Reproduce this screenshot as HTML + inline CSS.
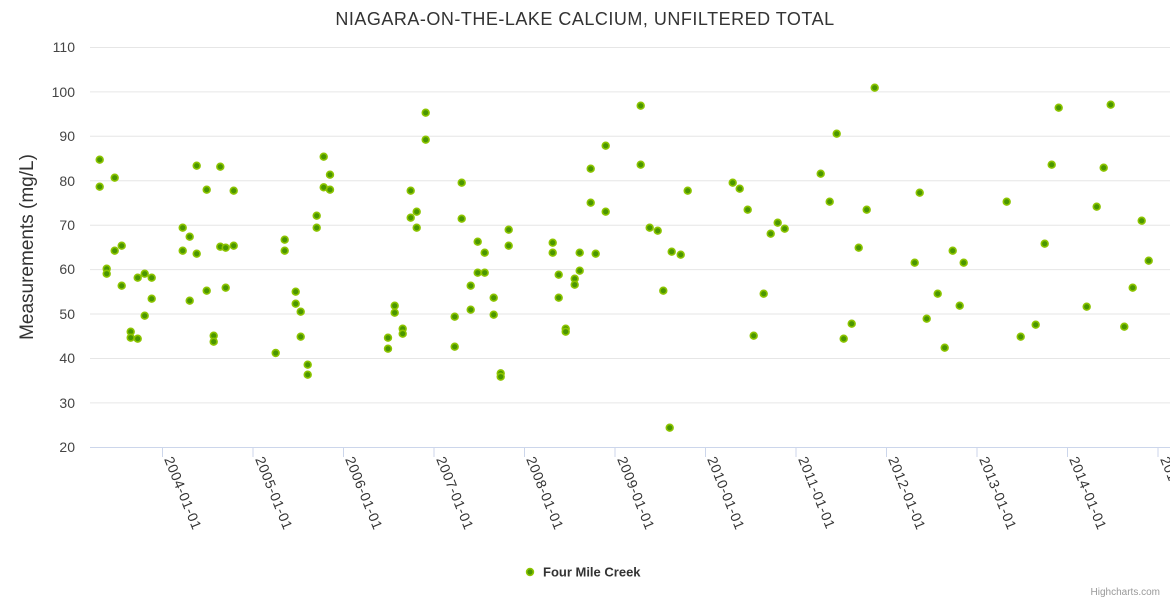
<!DOCTYPE html>
<html><head><meta charset="utf-8"><style>html,body{margin:0;padding:0;background:#fff}svg{display:block}</style></head>
<body>
<svg width="1170" height="600" xmlns="http://www.w3.org/2000/svg" font-family="'Liberation Sans', sans-serif">
<rect width="1170" height="600" fill="#fff"/>
<text x="585" y="25" text-anchor="middle" font-size="18" fill="#333" letter-spacing="0.5">NIAGARA-ON-THE-LAKE CALCIUM, UNFILTERED TOTAL</text>
<g stroke="#e6e6e6" stroke-width="1">
<line x1="90" x2="1170" y1="47.5" y2="47.5"/><line x1="90" x2="1170" y1="91.9" y2="91.9"/><line x1="90" x2="1170" y1="136.3" y2="136.3"/><line x1="90" x2="1170" y1="180.8" y2="180.8"/><line x1="90" x2="1170" y1="225.2" y2="225.2"/><line x1="90" x2="1170" y1="269.6" y2="269.6"/><line x1="90" x2="1170" y1="314" y2="314"/><line x1="90" x2="1170" y1="358.5" y2="358.5"/><line x1="90" x2="1170" y1="402.9" y2="402.9"/>
</g>
<line x1="90" x2="1170" y1="447.5" y2="447.5" stroke="#ccd6eb"/>
<g fill="#444" font-size="14" text-anchor="end">
<text x="75" y="52">110</text><text x="75" y="97">100</text><text x="75" y="141">90</text><text x="75" y="186">80</text><text x="75" y="230">70</text><text x="75" y="274">60</text><text x="75" y="319">50</text><text x="75" y="363">40</text><text x="75" y="408">30</text><text x="75" y="452">20</text>
</g>
<text transform="translate(33,247) rotate(-90)" text-anchor="middle" font-size="19" fill="#333">Measurements (mg/L)</text>
<g stroke="#ccd6eb">
<line x1="162.5" x2="162.5" y1="447" y2="457"/><line x1="253" x2="253" y1="447" y2="457"/><line x1="343.5" x2="343.5" y1="447" y2="457"/><line x1="434" x2="434" y1="447" y2="457"/><line x1="524.5" x2="524.5" y1="447" y2="457"/><line x1="615" x2="615" y1="447" y2="457"/><line x1="705.5" x2="705.5" y1="447" y2="457"/><line x1="796" x2="796" y1="447" y2="457"/><line x1="886.5" x2="886.5" y1="447" y2="457"/><line x1="977" x2="977" y1="447" y2="457"/><line x1="1067.5" x2="1067.5" y1="447" y2="457"/><line x1="1158" x2="1158" y1="447" y2="457"/>
</g>
<g fill="#333" font-size="14" letter-spacing="0.6">
<text transform="translate(164,459) rotate(68)">2004-01-01</text>
<text transform="translate(255,459) rotate(68)">2005-01-01</text>
<text transform="translate(345,459) rotate(68)">2006-01-01</text>
<text transform="translate(436,459) rotate(68)">2007-01-01</text>
<text transform="translate(526,459) rotate(68)">2008-01-01</text>
<text transform="translate(617,459) rotate(68)">2009-01-01</text>
<text transform="translate(707,459) rotate(68)">2010-01-01</text>
<text transform="translate(798,459) rotate(68)">2011-01-01</text>
<text transform="translate(888,459) rotate(68)">2012-01-01</text>
<text transform="translate(979,459) rotate(68)">2013-01-01</text>
<text transform="translate(1069,459) rotate(68)">2014-01-01</text>
<text transform="translate(1160,459) rotate(68)">2015-01-01</text>
</g>
<g fill="#4a9600" stroke="#8cc400" stroke-width="1.6">
<circle cx="99.7" cy="159.7" r="3.4"/><circle cx="99.7" cy="186.7" r="3.4"/><circle cx="114.7" cy="177.7" r="3.4"/><circle cx="106.7" cy="268.7" r="3.4"/><circle cx="106.7" cy="273.7" r="3.4"/><circle cx="114.7" cy="250.7" r="3.4"/><circle cx="121.7" cy="245.7" r="3.4"/><circle cx="121.7" cy="285.7" r="3.4"/><circle cx="130.7" cy="331.7" r="3.4"/><circle cx="130.7" cy="337.7" r="3.4"/><circle cx="137.7" cy="338.7" r="3.4"/><circle cx="137.7" cy="277.7" r="3.4"/><circle cx="144.7" cy="273.7" r="3.4"/><circle cx="151.7" cy="277.7" r="3.4"/><circle cx="151.7" cy="298.7" r="3.4"/><circle cx="144.7" cy="315.7" r="3.4"/>
<circle cx="182.7" cy="227.7" r="3.4"/><circle cx="189.7" cy="236.7" r="3.4"/><circle cx="182.7" cy="250.7" r="3.4"/><circle cx="196.7" cy="253.7" r="3.4"/><circle cx="196.7" cy="165.7" r="3.4"/><circle cx="206.7" cy="189.7" r="3.4"/><circle cx="220.3" cy="166.7" r="3.4"/><circle cx="233.7" cy="190.7" r="3.4"/><circle cx="220.3" cy="246.7" r="3.4"/><circle cx="225.7" cy="247.7" r="3.4"/><circle cx="233.7" cy="245.7" r="3.4"/><circle cx="206.7" cy="290.7" r="3.4"/><circle cx="189.7" cy="300.7" r="3.4"/><circle cx="225.7" cy="287.7" r="3.4"/><circle cx="213.7" cy="335.7" r="3.4"/><circle cx="213.7" cy="341.7" r="3.4"/>
<circle cx="275.7" cy="353" r="3.4"/><circle cx="284.7" cy="239.7" r="3.4"/><circle cx="284.7" cy="250.7" r="3.4"/><circle cx="295.7" cy="291.7" r="3.4"/><circle cx="295.7" cy="303.7" r="3.4"/><circle cx="300.7" cy="311.7" r="3.4"/><circle cx="300.7" cy="336.7" r="3.4"/><circle cx="307.7" cy="364.7" r="3.4"/><circle cx="307.7" cy="374.7" r="3.4"/><circle cx="316.7" cy="215.7" r="3.4"/><circle cx="316.7" cy="227.7" r="3.4"/><circle cx="323.7" cy="156.7" r="3.4"/><circle cx="330" cy="174.7" r="3.4"/><circle cx="323.7" cy="187.3" r="3.4"/><circle cx="330" cy="189.7" r="3.4"/>
<circle cx="388" cy="337.7" r="3.4"/><circle cx="388" cy="348.7" r="3.4"/><circle cx="394.7" cy="305.7" r="3.4"/><circle cx="394.7" cy="312.7" r="3.4"/><circle cx="402.7" cy="328.7" r="3.4"/><circle cx="402.7" cy="333.7" r="3.4"/><circle cx="410.7" cy="190.7" r="3.4"/><circle cx="410.7" cy="217.7" r="3.4"/><circle cx="416.7" cy="211.7" r="3.4"/><circle cx="416.7" cy="227.7" r="3.4"/><circle cx="425.7" cy="112.7" r="3.4"/><circle cx="425.7" cy="139.7" r="3.4"/>
<circle cx="454.7" cy="316.7" r="3.4"/><circle cx="454.7" cy="346.7" r="3.4"/><circle cx="461.7" cy="182.7" r="3.4"/><circle cx="461.7" cy="218.7" r="3.4"/><circle cx="470.7" cy="285.7" r="3.4"/><circle cx="470.7" cy="309.7" r="3.4"/><circle cx="477.7" cy="241.7" r="3.4"/><circle cx="477.7" cy="272.7" r="3.4"/><circle cx="484.7" cy="252.7" r="3.4"/><circle cx="484.7" cy="272.7" r="3.4"/><circle cx="493.7" cy="297.7" r="3.4"/><circle cx="493.7" cy="314.7" r="3.4"/><circle cx="500.7" cy="373.3" r="3.4"/><circle cx="500.7" cy="376.7" r="3.4"/><circle cx="508.7" cy="229.7" r="3.4"/><circle cx="508.7" cy="245.7" r="3.4"/>
<circle cx="552.7" cy="242.7" r="3.4"/><circle cx="552.7" cy="252.7" r="3.4"/><circle cx="558.7" cy="274.7" r="3.4"/><circle cx="558.7" cy="297.7" r="3.4"/><circle cx="565.7" cy="328.7" r="3.4"/><circle cx="565.7" cy="331.7" r="3.4"/><circle cx="574.7" cy="278.7" r="3.4"/><circle cx="574.7" cy="284.7" r="3.4"/><circle cx="579.7" cy="252.7" r="3.4"/><circle cx="579.7" cy="270.7" r="3.4"/><circle cx="590.7" cy="168.7" r="3.4"/><circle cx="590.7" cy="202.7" r="3.4"/><circle cx="595.7" cy="253.7" r="3.4"/><circle cx="605.7" cy="145.7" r="3.4"/><circle cx="605.7" cy="211.7" r="3.4"/>
<circle cx="640.7" cy="105.7" r="3.4"/><circle cx="640.7" cy="164.7" r="3.4"/><circle cx="649.7" cy="227.7" r="3.4"/><circle cx="657.7" cy="230.7" r="3.4"/><circle cx="663.3" cy="290.7" r="3.4"/><circle cx="669.7" cy="427.7" r="3.4"/><circle cx="671.7" cy="251.7" r="3.4"/><circle cx="680.7" cy="254.7" r="3.4"/><circle cx="687.7" cy="190.7" r="3.4"/>
<circle cx="732.7" cy="182.7" r="3.4"/><circle cx="739.7" cy="188.7" r="3.4"/><circle cx="747.7" cy="209.7" r="3.4"/><circle cx="777.7" cy="222.7" r="3.4"/><circle cx="784.7" cy="228.7" r="3.4"/><circle cx="770.7" cy="233.7" r="3.4"/><circle cx="763.7" cy="293.7" r="3.4"/><circle cx="753.7" cy="335.7" r="3.4"/>
<circle cx="874.7" cy="87.7" r="3.4"/><circle cx="836.7" cy="133.7" r="3.4"/><circle cx="820.7" cy="173.7" r="3.4"/><circle cx="829.7" cy="201.7" r="3.4"/><circle cx="866.7" cy="209.7" r="3.4"/><circle cx="858.7" cy="247.7" r="3.4"/><circle cx="851.7" cy="323.7" r="3.4"/><circle cx="843.7" cy="338.7" r="3.4"/>
<circle cx="919.7" cy="192.7" r="3.4"/><circle cx="914.7" cy="262.7" r="3.4"/><circle cx="937.7" cy="293.7" r="3.4"/><circle cx="926.7" cy="318.7" r="3.4"/><circle cx="944.7" cy="347.7" r="3.4"/><circle cx="952.7" cy="250.7" r="3.4"/><circle cx="963.7" cy="262.7" r="3.4"/><circle cx="959.7" cy="305.7" r="3.4"/>
<circle cx="1006.7" cy="201.7" r="3.4"/><circle cx="1020.7" cy="336.7" r="3.4"/><circle cx="1035.7" cy="324.7" r="3.4"/><circle cx="1044.7" cy="243.7" r="3.4"/><circle cx="1051.7" cy="164.7" r="3.4"/><circle cx="1058.7" cy="107.7" r="3.4"/><circle cx="1086.7" cy="306.7" r="3.4"/><circle cx="1096.7" cy="206.7" r="3.4"/><circle cx="1103.7" cy="167.7" r="3.4"/><circle cx="1110.7" cy="104.7" r="3.4"/><circle cx="1124.3" cy="326.7" r="3.4"/><circle cx="1132.7" cy="287.7" r="3.4"/><circle cx="1141.7" cy="220.7" r="3.4"/><circle cx="1148.7" cy="260.7" r="3.4"/>
<circle cx="530" cy="572" r="3.4"/>
</g>
<text x="543" y="576.5" font-size="13" font-weight="bold" fill="#333">Four Mile Creek</text>
<text x="1160" y="595" text-anchor="end" font-size="10" fill="#999">Highcharts.com</text>
</svg>
</body></html>
